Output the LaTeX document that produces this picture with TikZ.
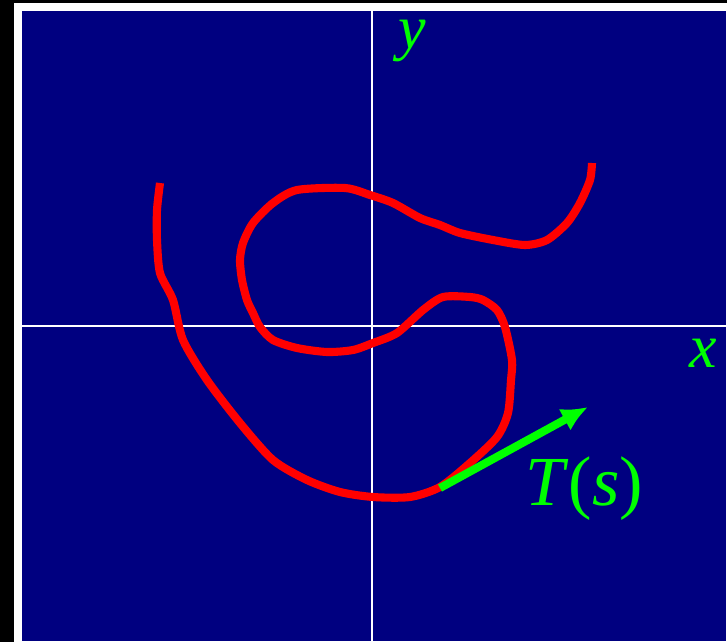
\documentclass[tikz,border=0pt]{standalone}
\usepackage{fontspec}
\setmainfont{Liberation Serif}
\usetikzlibrary{arrows.meta}

\definecolor{fondo}{RGB}{0,0,128}
\definecolor{curva}{RGB}{255,0,0}
\definecolor{verde}{RGB}{0,255,0}

\begin{document}
\begin{tikzpicture}[x=0.01cm, y=-0.01cm, >=Latex,
    eje/.style={white, line width=0.6pt},
    etiq/.style={text=verde, inner sep=0pt, anchor=base west},
    traza/.style={curva, line width=2.3pt, line join=round}]
  \useasboundingbox (0,0) rectangle (727,642);
  % --- marco y fondo ---
  \fill[black] (0,0) rectangle (727,642);
  \fill[white] (14,3) rectangle (727,642);
  \fill[fondo] (22,11) rectangle (726,641);

  % --- ejes x, y ---
  \coordinate (ytop) at (372,11);
  \coordinate (ybot) at (372,641);
  \coordinate (xizq) at (22,326);
  \coordinate (xder) at (726,326);
  \draw[eje] (ybot) -- (ytop);
  \draw[eje] (xizq) -- (xder);
  \node[etiq, font=\fontsize{17.6}{20}\selectfont] (ylab) at (398,48) {\textit{y}};
  \node[etiq, font=\fontsize{17.6}{20}\selectfont] (xlab) at (689,367) {\textit{x}};

  % --- curva alfa(s) ---
  \draw[traza] plot[smooth, tension=0.45] coordinates {
    (160,183) (157,210) (157,240) (160,273) (173,300) (183,340)
    (207,380) (240,423) (273,460) (307,480) (340,492) (373,497)
    (410,497) (440,487) (470,463) (497,437) (508,413) (511,380)
    (512,360) (505,327) (497,310) (483,300) (470,297) (443,297)
    (423,310) (397,333) (373,343) (353,350) (327,352) (297,348)
    (273,340) (260,327) (253,313) (247,300) (242,280) (240,260)
    (243,243) (253,223) (273,203) (297,190) (345,188) (370,195)
    (393,203) (420,218) (440,225) (460,233) (493,240) (525,245)
    (547,240) (567,223) (580,203) (590,180) (592,163)};

  % --- vector tangente T(s) ---
  \coordinate (tan) at (440,488);
  \coordinate (tanfin) at (588,407);
  \draw[->, verde, line width=2.3pt, arrows={-Latex[length=7.5pt, width=7pt]}] (tan) -- (tanfin);
  \node[etiq, font=\fontsize{20}{24}\selectfont] (tlab) at (525,505) {\textit{T}(\textit{s})};
\end{tikzpicture}
\end{document}
